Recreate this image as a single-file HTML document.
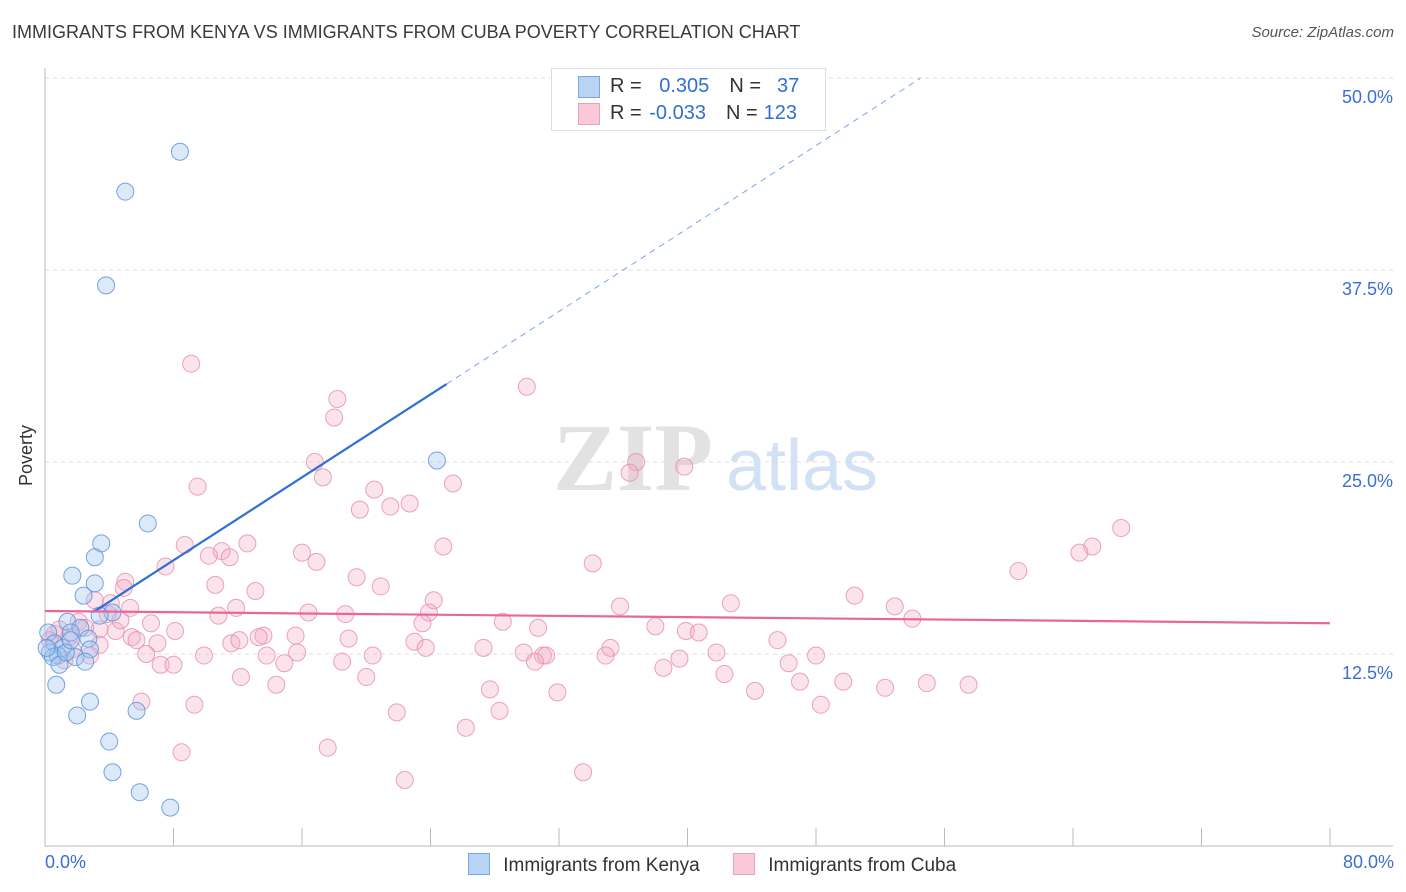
<!DOCTYPE html>
<html><head><meta charset="utf-8"><style>
body{margin:0;background:#fff;font-family:"Liberation Sans",sans-serif;}
#wrap{position:relative;width:1406px;height:892px;overflow:hidden}
.t{position:absolute;white-space:nowrap}
</style></head><body><div id="wrap">
<div class="t" style="left:12px;top:22px;font-size:18px;color:#3a3a3a">IMMIGRANTS FROM KENYA VS IMMIGRANTS FROM CUBA POVERTY CORRELATION CHART</div>
<div class="t" style="right:12px;top:24px;font-size:15px;color:#555;font-style:italic">Source: ZipAtlas.com</div>
<svg id="svg" width="1406" height="892" style="position:absolute;left:0;top:0"></svg>
</div>
<script>
const kenyaX=[8.4,5.0,3.8,24.4,6.4,3.5,3.1,1.7,3.1,2.4,4.2,3.4,1.4,2.2,1.6,0.2,2.7,0.6,1.1,2.8,0.3,0.8,1.9,0.5,2.5,0.9,0.7,2.8,2.0,5.7,4.0,4.2,5.9,7.8,1.3,0.1,1.6];
const kenyaY=[45.2,42.6,36.5,25.1,21.0,19.7,18.8,17.6,17.1,16.3,15.2,15.0,14.6,14.2,13.9,13.9,13.5,13.2,12.9,12.8,12.6,12.4,12.3,12.3,12.0,11.8,10.5,9.4,8.5,8.8,6.8,4.8,3.5,2.5,12.6,12.9,13.4];
const cubaX=[9.1,30.0,18.2,18.0,16.8,36.8,39.8,36.4,17.3,9.5,25.4,20.5,22.7,21.5,19.6,67.0,65.2,64.4,8.7,12.6,24.8,16.0,11.0,10.2,11.5,16.9,7.5,34.1,60.6,19.4,10.6,5.0,20.9,4.9,13.1,50.4,24.2,3.1,4.1,42.7,35.8,52.9,11.9,16.4,23.9,18.7,10.8,3.9,54.0,2.1,23.5,28.5,6.6,38.0,30.7,3.4,8.1,4.4,39.9,40.7,13.6,15.6,13.3,5.4,18.9,5.7,45.6,23.0,11.6,7.0,1.5,0.6,23.7,27.3,35.2,15.7,29.8,41.8,6.3,9.9,13.8,20.4,31.0,31.2,34.9,48.0,18.5,30.5,39.5,14.9,7.2,8.0,46.3,38.5,12.2,20.0,42.3,47.0,49.7,14.4,54.9,57.5,52.3,27.7,44.2,31.9,6.0,9.3,48.3,28.3,21.9,26.2,17.6,8.5,33.5,22.4,0.3,0.9,1.7,2.5,1.2,3.4,4.7,2.8,5.3,12.1];
const cubaY=[31.4,29.9,29.1,27.9,25.0,25.0,24.7,24.3,24.0,23.4,23.6,23.2,22.3,22.1,21.9,20.7,19.5,19.1,19.6,19.7,19.5,19.1,19.2,18.9,18.8,18.5,18.2,18.4,17.9,17.5,17.0,17.2,16.9,16.8,16.6,16.3,16.0,16.0,15.8,15.8,15.6,15.6,15.5,15.2,15.2,15.1,15.0,15.1,14.8,14.6,14.5,14.6,14.5,14.3,14.2,14.1,14.0,14.0,14.0,13.9,13.7,13.7,13.6,13.6,13.5,13.4,13.4,13.3,13.2,13.2,13.6,13.8,12.9,12.9,12.9,12.6,12.6,12.6,12.5,12.4,12.4,12.4,12.4,12.4,12.4,12.4,12.0,12.0,12.2,11.9,11.8,11.8,11.9,11.6,11.0,11.0,11.2,10.7,10.7,10.5,10.6,10.5,10.3,10.2,10.1,10.0,9.4,9.2,9.2,8.8,8.7,7.7,6.4,6.1,4.8,4.3,13.4,14.1,12.8,14.2,12.1,13.1,14.7,12.4,15.5,13.4];
const yTicks=[12.5,25.0,37.5,50.0];
const xTickVals=[0,8,16,24,32,40,48,56,64,72,80];
const kenyaFit=[13.2,0.675];
const cubaFit=[15.3,-0.01];
const NS='http://www.w3.org/2000/svg';
const svg=document.getElementById('svg');
const X0=45,X1=1330,Y0=846,YT=78;
function sx(v){return X0+(v/80)*(X1-X0);}
function sy(v){return Y0-(v/50)*(Y0-YT);}
function mk(tag,attrs,name){const e=document.createElementNS(NS,tag);for(const k in attrs)e.setAttribute(k,attrs[k]);


svg.appendChild(e);return e;}
yTicks.forEach(v=>{
mk('line',{x1:45,x2:1393,y1:sy(v),y2:sy(v),stroke:'#ddd','stroke-dasharray':'4,4'},'gridline');
const t=mk('text',{x:1393,y:sy(v)+25,'text-anchor':'end','font-size':18,fill:'#3b6fd4','font-family':'Liberation Sans'},'y-tick-label');t.textContent=v.toFixed(1)+'%';
});
mk('line',{x1:45,x2:45,y1:68,y2:846,stroke:'#bbb'},'y-axis-line');
mk('line',{x1:45,x2:1393,y1:846,y2:846,stroke:'#bbb'},'x-axis-line');
xTickVals.forEach(v=>{mk('line',{x1:sx(v),x2:sx(v),y1:828,y2:846,stroke:'#bbb'},'x-tick');});
const w1=mk('text',{x:633,y:490,'text-anchor':'middle','font-size':96,fill:'#e2e2e2','font-family':'Liberation Serif','font-weight':'bold'},'watermark-zip');w1.textContent='ZIP';
const w2=mk('text',{x:802,y:490,'text-anchor':'middle','font-size':72,fill:'#d3e1f5','font-family':'Liberation Sans'},'watermark-atlas');w2.textContent='atlas';
cubaX.forEach((x,i)=>mk('circle',{cx:sx(x),cy:sy(cubaY[i]),r:8.5,fill:'rgba(244,170,196,0.33)',stroke:'rgba(230,140,175,0.8)','stroke-width':1},'cuba-point'));
kenyaX.forEach((x,i)=>mk('circle',{cx:sx(x),cy:sy(kenyaY[i]),r:8.5,fill:'rgba(160,196,240,0.38)',stroke:'rgba(95,148,220,0.85)','stroke-width':1},'kenya-point'));
const kf=x=>kenyaFit[0]+kenyaFit[1]*x, cf=x=>cubaFit[0]+cubaFit[1]*x;
mk('line',{x1:sx(3),y1:sy(kf(3)),x2:sx(25),y2:sy(kf(25)),stroke:'#2f6fd6','stroke-width':2.2},'kenya-trendline');
const xe=(50-kenyaFit[0])/kenyaFit[1];
mk('line',{x1:sx(25),y1:sy(kf(25)),x2:sx(xe),y2:sy(50),stroke:'#7aa6e6','stroke-width':1,'stroke-dasharray':'6,5'},'kenya-trendline-extension');
mk('line',{x1:sx(0),y1:sy(cf(0)),x2:sx(80),y2:sy(cf(80)),stroke:'#e8679a','stroke-width':2.2},'cuba-trendline');
</script>
<div class="t" style="left:-4px;top:445px;font-size:18px;color:#333;transform:rotate(-90deg)">Poverty</div>
<div class="t" style="left:45px;top:852px;font-size:18px;color:#3b6fd4">0.0%</div>
<div class="t" style="right:12px;top:852px;font-size:18px;color:#3b6fd4">80.0%</div>
<div style="position:absolute;left:551px;top:68px;width:273px;height:61px;border:1px solid #ddd;background:#fff;font-size:20px;color:#333">
 <div style="position:absolute;left:26px;top:7px;width:20px;height:20px;background:#b9d3f5;border:1px solid #7aa6e6"></div>
 <div class="t" style="left:58px;top:6px">R = <span style="color:#2f6fd6;margin-left:12px">0.305</span><span style="margin-left:20px">N =</span><span style="color:#2f6fd6;margin-left:16px">37</span></div>
 <div style="position:absolute;left:26px;top:34px;width:20px;height:20px;background:#f9c9d8;border:1px solid #eba0bb"></div>
 <div class="t" style="left:58px;top:33px">R = <span style="color:#2f6fd6;margin-left:2px">-0.033</span><span style="margin-left:20px">N =</span><span style="color:#2f6fd6;margin-left:6px">123</span></div>
</div>
<div style="position:absolute;left:468px;top:853px;font-size:19px;color:#333">
 <span style="display:inline-block;width:20px;height:20px;background:#b9d3f5;border:1px solid #7aa6e6;vertical-align:-4px"></span>
 <span style="margin-left:8px">Immigrants from Kenya</span>
 <span style="display:inline-block;width:20px;height:20px;background:#f9c9d8;border:1px solid #eba0bb;vertical-align:-4px;margin-left:28px"></span>
 <span style="margin-left:8px">Immigrants from Cuba</span>
</div>
</body></html>
